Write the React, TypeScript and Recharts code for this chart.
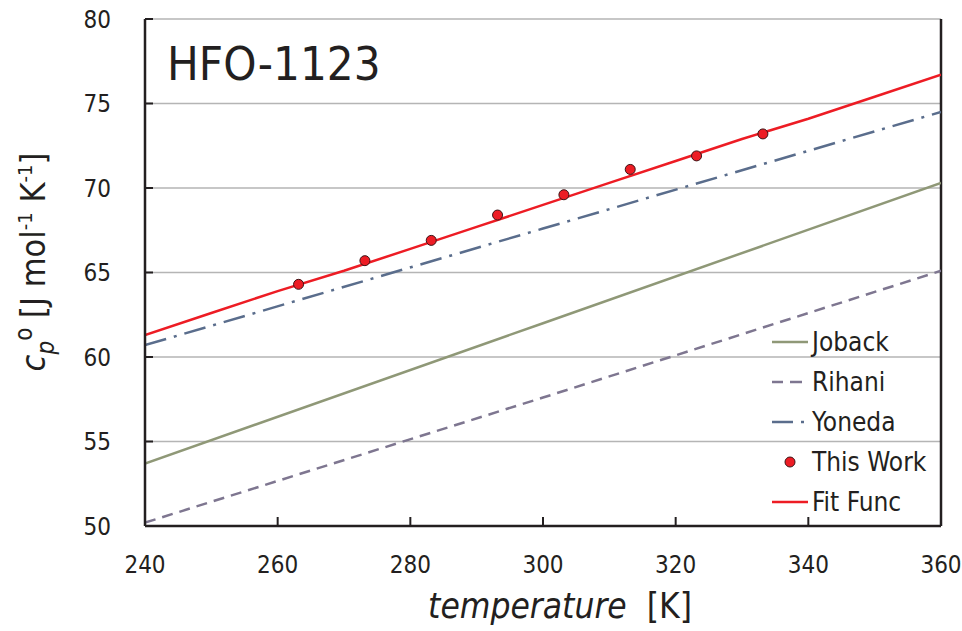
import {
  CartesianGrid,
  ComposedChart,
  Legend,
  Line,
  ReferenceLine,
  Scatter,
  XAxis,
  YAxis,
} from "recharts";

const FONT = "'DejaVu Sans Condensed', 'DejaVu Sans', sans-serif";
const INK = "#231f20";

const xTicks = [240, 260, 280, 300, 320, 340, 360];
const yTicks = [50, 55, 60, 65, 70, 75, 80];

// fitted curve, read every 10 K
const fitT = [240, 250, 260, 270, 280, 290, 300, 310, 320, 330, 340, 350, 360];
const fitCp = [61.3, 62.6, 63.9, 65.1, 66.4, 67.7, 69.0, 70.3, 71.6, 72.9, 74.1, 75.4, 76.7];

// measured points
const workT = [263.15, 273.15, 283.15, 293.15, 303.15, 313.15, 323.15, 333.15];
const workCp = [64.3, 65.7, 66.9, 68.4, 69.6, 71.1, 71.9, 73.2];

// estimation methods (straight lines)
const refT = [240, 300, 360];
const jobackCp = [53.7, 62.0, 70.3];
const rihaniCp = [50.2, 57.6, 65.1];
const yonedaCp = [60.7, 67.6, 74.5];

const toRows = (ts: number[], cps: number[]) => ts.map((t, i) => ({ t, cp: cps[i] }));

const fitData = toRows(fitT, fitCp);
const workData = toRows(workT, workCp);
const jobackData = toRows(refT, jobackCp);
const rihaniData = toRows(refT, rihaniCp);
const yonedaData = toRows(refT, yonedaCp);

const COLORS = {
  joback: "#8f9877",
  rihani: "#7e7690",
  yoneda: "#5a6d8c",
  fit: "#ed1c24",
};

const legendItems = [
  { name: "Joback", kind: "solid", color: COLORS.joback },
  { name: "Rihani", kind: "dash", color: COLORS.rihani },
  { name: "Yoneda", kind: "dashdot", color: COLORS.yoneda },
  { name: "This Work", kind: "dot", color: COLORS.fit },
  { name: "Fit Func", kind: "solid", color: COLORS.fit },
];

function LegendIcon({ kind, color }: { kind: string; color: string }) {
  return (
    <svg width={37} height={12} style={{ display: "block" }}>
      {kind === "solid" && <line x1={0} y1={6} x2={36} y2={6} stroke={color} strokeWidth={2.5} />}
      {kind === "dash" && (
        <>
          <line x1={0} y1={6} x2={11} y2={6} stroke={color} strokeWidth={2.5} />
          <line x1={18} y1={6} x2={30} y2={6} stroke={color} strokeWidth={2.5} />
        </>
      )}
      {kind === "dashdot" && (
        <>
          <line x1={0} y1={6} x2={21} y2={6} stroke={color} strokeWidth={2.5} />
          <line x1={29} y1={6} x2={32} y2={6} stroke={color} strokeWidth={2.5} />
        </>
      )}
      {kind === "dot" && <circle cx={18} cy={6} r={5} fill={color} stroke="#3b1416" strokeWidth={1} />}
    </svg>
  );
}

function LegendBox() {
  return (
    <div style={{ fontFamily: FONT, fontSize: 26, color: INK }}>
      {legendItems.map((it) => (
        <div key={it.name} style={{ display: "flex", alignItems: "center", height: 40 }}>
          <LegendIcon kind={it.kind} color={it.color} />
          <span style={{ marginLeft: 3 }}>{it.name}</span>
        </div>
      ))}
    </div>
  );
}

function YTitle() {
  const cx = 45;
  const cy = 262;
  return (
    <text
      x={cx}
      y={cy}
      transform={`rotate(-90 ${cx} ${cy})`}
      textAnchor="middle"
      fill={INK}
      fontSize={34}
      fontFamily={FONT}
    >
      <tspan fontStyle="italic">c</tspan>
      <tspan fontStyle="italic" fontSize={24} dy={9}>p</tspan>
      <tspan fontSize={24} dy={-22}>o</tspan>
      <tspan dy={13}> [J mol</tspan>
      <tspan fontSize={20} dy={-13}>-1</tspan>
      <tspan dy={13}> K</tspan>
      <tspan fontSize={20} dy={-13}>-1</tspan>
      <tspan dy={13}>]</tspan>
    </text>
  );
}

function XTitle() {
  return (
    <text x={560} y={618} textAnchor="middle" fill={INK} fontSize={35} fontFamily={FONT}>
      <tspan fontStyle="italic">temperature</tspan>
      <tspan xmlSpace="preserve">{"  [K]"}</tspan>
    </text>
  );
}

export default function App() {
  return (
    <div style={{ position: "absolute", left: 0, top: 0, background: "#fff" }}>
      <ComposedChart
        width={962}
        height={631}
        margin={{ top: 19, right: 21, bottom: 45, left: 45 }}
      >
        <CartesianGrid stroke="#b5b5b5" strokeWidth={1.3} vertical={false} />
        <XAxis
          type="number"
          dataKey="t"
          domain={[240, 360]}
          ticks={xTicks}
          allowDataOverflow
          height={60}
          tickSize={-9}
          tickMargin={39}
          tick={{ fill: INK, fontSize: 24, fontFamily: FONT }}
          tickLine={{ stroke: INK, strokeWidth: 2 }}
          axisLine={{ stroke: INK, strokeWidth: 2.5 }}
          label={{ content: () => <XTitle /> }}
        />
        <YAxis
          type="number"
          domain={[50, 80]}
          ticks={yTicks}
          allowDataOverflow
          width={100}
          tickSize={-8}
          tickMargin={42}
          tick={{ fill: INK, fontSize: 24, fontFamily: FONT }}
          tickLine={{ stroke: INK, strokeWidth: 2 }}
          axisLine={{ stroke: INK, strokeWidth: 2.5 }}
          label={{ content: () => <YTitle /> }}
        />
        <ReferenceLine x={360} stroke={INK} strokeWidth={2.5} />
        <Line
          data={jobackData}
          dataKey="cp"
          stroke={COLORS.joback}
          strokeWidth={2.5}
          dot={false}
          isAnimationActive={false}
        />
        <Line
          data={rihaniData}
          dataKey="cp"
          stroke={COLORS.rihani}
          strokeWidth={2.5}
          strokeDasharray="11 7"
          dot={false}
          isAnimationActive={false}
        />
        <Line
          data={yonedaData}
          dataKey="cp"
          stroke={COLORS.yoneda}
          strokeWidth={2.5}
          strokeDasharray="22 8 3 8"
          dot={false}
          isAnimationActive={false}
        />
        <Line
          data={fitData}
          dataKey="cp"
          stroke={COLORS.fit}
          strokeWidth={2.5}
          dot={false}
          isAnimationActive={false}
        />
        <Scatter
          data={workData}
          dataKey="cp"
          fill={COLORS.fit}
          stroke="#3b1416"
          strokeWidth={1}
          shape={(p: any) => (
            <circle cx={p.cx} cy={p.cy} r={5} fill={COLORS.fit} stroke="#3b1416" strokeWidth={1} />
          )}
          isAnimationActive={false}
        />
        <text x={167} y={80} fill={INK} fontSize={47} fontFamily={FONT}>
          HFO-1123
        </text>
        <Legend
          layout="horizontal"
          align="center"
          verticalAlign="middle"
          content={() => <LegendBox />}
          wrapperStyle={{ left: 772, top: 322, width: "auto", bottom: "auto" }}
        />
      </ComposedChart>
    </div>
  );
}
